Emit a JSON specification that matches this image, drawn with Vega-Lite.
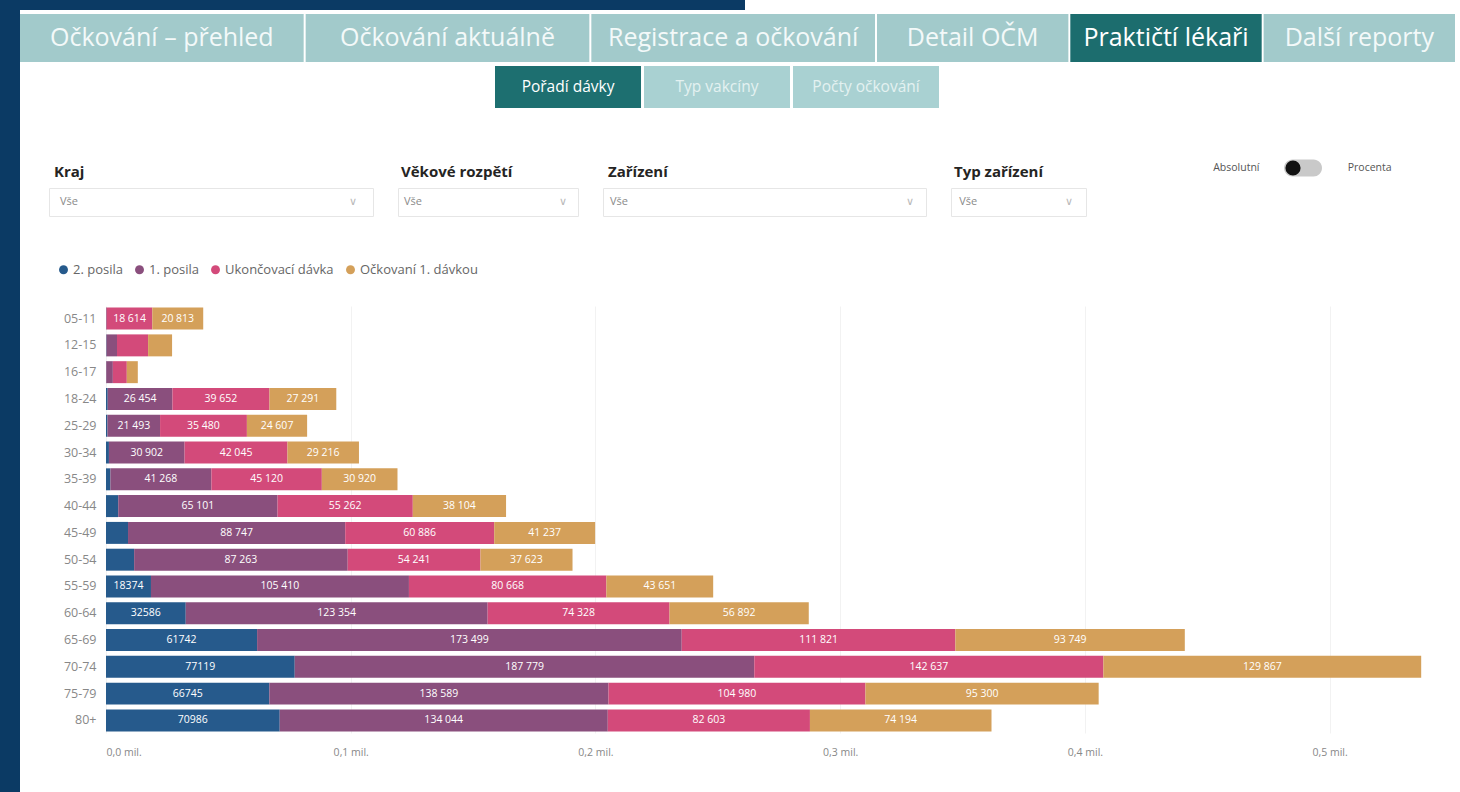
{
  "$schema": "https://vega.github.io/schema/vega-lite/v6.json",
  "padding": 0,
  "background": "white",
  "config": {"view": {"stroke": null}, "font": "Open Sans"},
  "datasets": {
    "tabsA": [
      {"tab": "Očkování – přehled", "aktivni": false},
      {"tab": "Očkování aktuálně", "aktivni": false},
      {"tab": "Registrace a očkování", "aktivni": false}
    ],
    "tabsB": [
      {"tab": "Detail OČM", "aktivni": false},
      {"tab": "Praktičtí lékaři", "aktivni": true},
      {"tab": "Další reporty", "aktivni": false}
    ],
    "subtabs": [
      {"tab": "Pořadí dávky", "aktivni": true},
      {"tab": "Typ vakcíny", "aktivni": false},
      {"tab": "Počty očkování", "aktivni": false}
    ],
    "dropdown": [{"k": "a", "t": "Vše"}, {"k": "b", "t": "∨"}],
    "toggle": [{"k": "Absolutní"}, {"k": "sw"}, {"k": "Procenta"}],
    "davky": [
      {"vek": "05-11", "serie": "2. posila", "poradi": 1, "pocet": 0},
      {"vek": "05-11", "serie": "1. posila", "poradi": 2, "pocet": 300},
      {"vek": "05-11", "serie": "Ukončovací dávka", "poradi": 3, "pocet": 18614},
      {"vek": "05-11", "serie": "Očkovaní 1. dávkou", "poradi": 4, "pocet": 20813},
      {"vek": "12-15", "serie": "2. posila", "poradi": 1, "pocet": 200},
      {"vek": "12-15", "serie": "1. posila", "poradi": 2, "pocet": 4300},
      {"vek": "12-15", "serie": "Ukončovací dávka", "poradi": 3, "pocet": 12700},
      {"vek": "12-15", "serie": "Očkovaní 1. dávkou", "poradi": 4, "pocet": 9800},
      {"vek": "16-17", "serie": "2. posila", "poradi": 1, "pocet": 100},
      {"vek": "16-17", "serie": "1. posila", "poradi": 2, "pocet": 2700},
      {"vek": "16-17", "serie": "Ukončovací dávka", "poradi": 3, "pocet": 5700},
      {"vek": "16-17", "serie": "Očkovaní 1. dávkou", "poradi": 4, "pocet": 4500},
      {"vek": "18-24", "serie": "2. posila", "poradi": 1, "pocet": 700},
      {"vek": "18-24", "serie": "1. posila", "poradi": 2, "pocet": 26454},
      {"vek": "18-24", "serie": "Ukončovací dávka", "poradi": 3, "pocet": 39652},
      {"vek": "18-24", "serie": "Očkovaní 1. dávkou", "poradi": 4, "pocet": 27291},
      {"vek": "25-29", "serie": "2. posila", "poradi": 1, "pocet": 600},
      {"vek": "25-29", "serie": "1. posila", "poradi": 2, "pocet": 21493},
      {"vek": "25-29", "serie": "Ukončovací dávka", "poradi": 3, "pocet": 35480},
      {"vek": "25-29", "serie": "Očkovaní 1. dávkou", "poradi": 4, "pocet": 24607},
      {"vek": "30-34", "serie": "2. posila", "poradi": 1, "pocet": 1200},
      {"vek": "30-34", "serie": "1. posila", "poradi": 2, "pocet": 30902},
      {"vek": "30-34", "serie": "Ukončovací dávka", "poradi": 3, "pocet": 42045},
      {"vek": "30-34", "serie": "Očkovaní 1. dávkou", "poradi": 4, "pocet": 29216},
      {"vek": "35-39", "serie": "2. posila", "poradi": 1, "pocet": 1800},
      {"vek": "35-39", "serie": "1. posila", "poradi": 2, "pocet": 41268},
      {"vek": "35-39", "serie": "Ukončovací dávka", "poradi": 3, "pocet": 45120},
      {"vek": "35-39", "serie": "Očkovaní 1. dávkou", "poradi": 4, "pocet": 30920},
      {"vek": "40-44", "serie": "2. posila", "poradi": 1, "pocet": 5000},
      {"vek": "40-44", "serie": "1. posila", "poradi": 2, "pocet": 65101},
      {"vek": "40-44", "serie": "Ukončovací dávka", "poradi": 3, "pocet": 55262},
      {"vek": "40-44", "serie": "Očkovaní 1. dávkou", "poradi": 4, "pocet": 38104},
      {"vek": "45-49", "serie": "2. posila", "poradi": 1, "pocet": 9000},
      {"vek": "45-49", "serie": "1. posila", "poradi": 2, "pocet": 88747},
      {"vek": "45-49", "serie": "Ukončovací dávka", "poradi": 3, "pocet": 60886},
      {"vek": "45-49", "serie": "Očkovaní 1. dávkou", "poradi": 4, "pocet": 41237},
      {"vek": "50-54", "serie": "2. posila", "poradi": 1, "pocet": 11500},
      {"vek": "50-54", "serie": "1. posila", "poradi": 2, "pocet": 87263},
      {"vek": "50-54", "serie": "Ukončovací dávka", "poradi": 3, "pocet": 54241},
      {"vek": "50-54", "serie": "Očkovaní 1. dávkou", "poradi": 4, "pocet": 37623},
      {"vek": "55-59", "serie": "2. posila", "poradi": 1, "pocet": 18374},
      {"vek": "55-59", "serie": "1. posila", "poradi": 2, "pocet": 105410},
      {"vek": "55-59", "serie": "Ukončovací dávka", "poradi": 3, "pocet": 80668},
      {"vek": "55-59", "serie": "Očkovaní 1. dávkou", "poradi": 4, "pocet": 43651},
      {"vek": "60-64", "serie": "2. posila", "poradi": 1, "pocet": 32586},
      {"vek": "60-64", "serie": "1. posila", "poradi": 2, "pocet": 123354},
      {"vek": "60-64", "serie": "Ukončovací dávka", "poradi": 3, "pocet": 74328},
      {"vek": "60-64", "serie": "Očkovaní 1. dávkou", "poradi": 4, "pocet": 56892},
      {"vek": "65-69", "serie": "2. posila", "poradi": 1, "pocet": 61742},
      {"vek": "65-69", "serie": "1. posila", "poradi": 2, "pocet": 173499},
      {"vek": "65-69", "serie": "Ukončovací dávka", "poradi": 3, "pocet": 111821},
      {"vek": "65-69", "serie": "Očkovaní 1. dávkou", "poradi": 4, "pocet": 93749},
      {"vek": "70-74", "serie": "2. posila", "poradi": 1, "pocet": 77119},
      {"vek": "70-74", "serie": "1. posila", "poradi": 2, "pocet": 187779},
      {"vek": "70-74", "serie": "Ukončovací dávka", "poradi": 3, "pocet": 142637},
      {"vek": "70-74", "serie": "Očkovaní 1. dávkou", "poradi": 4, "pocet": 129867},
      {"vek": "75-79", "serie": "2. posila", "poradi": 1, "pocet": 66745},
      {"vek": "75-79", "serie": "1. posila", "poradi": 2, "pocet": 138589},
      {"vek": "75-79", "serie": "Ukončovací dávka", "poradi": 3, "pocet": 104980},
      {"vek": "75-79", "serie": "Očkovaní 1. dávkou", "poradi": 4, "pocet": 95300},
      {"vek": "80+", "serie": "2. posila", "poradi": 1, "pocet": 70986},
      {"vek": "80+", "serie": "1. posila", "poradi": 2, "pocet": 134044},
      {"vek": "80+", "serie": "Ukončovací dávka", "poradi": 3, "pocet": 82603},
      {"vek": "80+", "serie": "Očkovaní 1. dávkou", "poradi": 4, "pocet": 74194}
    ]
  },
  "spacing": 0,
  "resolve": {"legend": {"color": "independent"}},
  "hconcat": [
    {
      "width": 20,
      "height": 792,
      "view": {"fill": "#0b3a64"},
      "data": {"values": []},
      "mark": "point",
      "encoding": {}
    },
    {
      "spacing": 51,
      "resolve": {"legend": {"color": "independent"}},
      "vconcat": [
        {
          "spacing": 4,
          "vconcat": [
            {
              "width": 725,
              "height": 10,
              "view": {"fill": "#0b3a64"},
              "data": {"values": []},
              "mark": "point",
              "encoding": {}
            },
            {
              "spacing": 2,
              "hconcat": [
                {
                  "width": 855,
                  "height": 48,
                  "data": {"name": "tabsA"},
                  "encoding": {
                    "x": {"field": "tab", "type": "nominal", "sort": null, "axis": null,
                          "scale": {"paddingInner": 0.007, "paddingOuter": 0}}
                  },
                  "layer": [
                    {
                      "mark": "bar",
                      "encoding": {
                        "color": {"condition": {"test": "datum.aktivni", "value": "#1c6d6e"}, "value": "#a2cacb"}
                      }
                    },
                    {
                      "mark": {"type": "text", "fontSize": 25, "baseline": "middle"},
                      "encoding": {
                        "text": {"field": "tab"},
                        "color": {"condition": {"test": "datum.aktivni", "value": "#ffffff"}, "value": "#f3f9f9"}
                      }
                    }
                  ]
                },
                {
                  "width": 578,
                  "height": 48,
                  "data": {"name": "tabsB"},
                  "encoding": {
                    "x": {"field": "tab", "type": "nominal", "sort": null, "axis": null,
                          "scale": {"paddingInner": 0.01, "paddingOuter": 0}}
                  },
                  "layer": [
                    {
                      "mark": "bar",
                      "encoding": {
                        "color": {"condition": {"test": "datum.aktivni", "value": "#1c6d6e"}, "value": "#a2cacb"}
                      }
                    },
                    {
                      "mark": {"type": "text", "fontSize": 25, "baseline": "middle"},
                      "encoding": {
                        "text": {"field": "tab"},
                        "color": {"condition": {"test": "datum.aktivni", "value": "#ffffff"}, "value": "#f3f9f9"}
                      }
                    }
                  ]
                }
              ]
            },
            {
              "spacing": 0,
              "hconcat": [
                {"width": 474, "height": 42, "data": {"values": []}, "mark": "point", "encoding": {}},
                {
                  "width": 444,
                  "height": 42,
                  "data": {"name": "subtabs"},
                  "encoding": {
                    "x": {"field": "tab", "type": "nominal", "sort": null, "axis": null,
                          "scale": {"paddingInner": 0.02, "paddingOuter": 0}}
                  },
                  "layer": [
                    {
                      "mark": "bar",
                      "encoding": {
                        "color": {"condition": {"test": "datum.aktivni", "value": "#1d6f70"}, "value": "#a9d1d2"}
                      }
                    },
                    {
                      "mark": {"type": "text", "fontSize": 15.5, "baseline": "middle"},
                      "encoding": {
                        "text": {"field": "tab"},
                        "color": {"condition": {"test": "datum.aktivni", "value": "#ffffff"}, "value": "#e4f1f1"}
                      }
                    }
                  ]
                }
              ]
            }
          ]
        },
        {
          "spacing": 46,
          "resolve": {"legend": {"color": "independent"}},
          "vconcat": [
            {
              "spacing": 23,
              "hconcat": [
                {"width": 5, "height": 1, "data": {"values": []}, "mark": "point", "encoding": {}},
                {
                  "width": 324,
                  "height": 28,
                  "view": {"stroke": "#e6e6e6", "fill": "white"},
                  "title": {"text": "Kraj", "anchor": "start", "fontSize": 15, "fontWeight": "bold", "color": "#252423", "offset": 8, "dx": 5},
                  "data": {"name": "dropdown"},
                  "mark": {"type": "text", "fontSize": 11},
                  "encoding": {
                    "x": {"field": "k", "type": "nominal", "axis": null, "scale": {"type": "point", "padding": 0.07}},
                    "text": {"field": "t"},
                    "color": {"condition": {"test": "datum.k == 'b'", "value": "#b8b8b8"}, "value": "#8a8a8a"}
                  }
                },
                {
                  "width": 180,
                  "height": 28,
                  "view": {"stroke": "#e6e6e6", "fill": "white"},
                  "title": {"text": "Věkové rozpětí", "anchor": "start", "fontSize": 15, "fontWeight": "bold", "color": "#252423", "offset": 8, "dx": 3},
                  "data": {"name": "dropdown"},
                  "mark": {"type": "text", "fontSize": 11},
                  "encoding": {
                    "x": {"field": "k", "type": "nominal", "axis": null, "scale": {"type": "point", "padding": 0.1}},
                    "text": {"field": "t"},
                    "color": {"condition": {"test": "datum.k == 'b'", "value": "#b8b8b8"}, "value": "#8a8a8a"}
                  }
                },
                {
                  "width": 323,
                  "height": 28,
                  "view": {"stroke": "#e6e6e6", "fill": "white"},
                  "title": {"text": "Zařízení", "anchor": "start", "fontSize": 15, "fontWeight": "bold", "color": "#252423", "offset": 8, "dx": 5},
                  "data": {"name": "dropdown"},
                  "mark": {"type": "text", "fontSize": 11},
                  "encoding": {
                    "x": {"field": "k", "type": "nominal", "axis": null, "scale": {"type": "point", "padding": 0.055}},
                    "text": {"field": "t"},
                    "color": {"condition": {"test": "datum.k == 'b'", "value": "#b8b8b8"}, "value": "#8a8a8a"}
                  }
                },
                {
                  "width": 135,
                  "height": 28,
                  "view": {"stroke": "#e6e6e6", "fill": "white"},
                  "title": {"text": "Typ zařízení", "anchor": "start", "fontSize": 15, "fontWeight": "bold", "color": "#252423", "offset": 8, "dx": 3},
                  "data": {"name": "dropdown"},
                  "mark": {"type": "text", "fontSize": 11},
                  "encoding": {
                    "x": {"field": "k", "type": "nominal", "axis": null, "scale": {"type": "point", "padding": 0.17}},
                    "text": {"field": "t"},
                    "color": {"condition": {"test": "datum.k == 'b'", "value": "#b8b8b8"}, "value": "#8a8a8a"}
                  }
                },
                {"width": 70, "height": 1, "data": {"values": []}, "mark": "point", "encoding": {}},
                {
                  "width": 200,
                  "height": 28,
                  "data": {"name": "toggle"},
                  "encoding": {
                    "x": {"field": "k", "type": "nominal", "axis": null,
                          "scale": {"type": "point", "padding": 0.5, "domain": ["Absolutní", "sw", "Procenta"]}}
                  },
                  "layer": [
                    {
                      "transform": [{"filter": "datum.k != 'sw'"}],
                      "mark": {"type": "text", "fontSize": 10.5, "color": "#555555", "dy": -34},
                      "encoding": {"text": {"field": "k"}}
                    },
                    {
                      "transform": [{"filter": "datum.k == 'sw'"}],
                      "mark": {"type": "point", "filled": true, "opacity": 1, "color": "#c9c9c9", "yOffset": -34,
                               "shape": "M-0.55,-0.45L0.55,-0.45A0.45,0.45 0 0 1 0.55,0.45L-0.55,0.45A0.45,0.45 0 0 1 -0.55,-0.45Z",
                               "size": 1444}
                    },
                    {
                      "transform": [{"filter": "datum.k == 'sw'"}],
                      "mark": {"type": "point", "filled": true, "opacity": 1, "color": "#111111", "shape": "circle", "size": 230, "xOffset": -10, "yOffset": -34}
                    }
                  ]
                }
              ]
            },
            {
              "spacing": 0,
              "resolve": {"legend": {"color": "independent"}},
              "hconcat": [
                {"width": 36, "height": 1, "data": {"values": []}, "mark": "point", "encoding": {}},
                {
                  "width": 1324,
                  "height": 427,
                  "data": {"name": "davky"},
                  "transform": [
                    {"stack": "pocet", "groupby": ["vek"], "sort": [{"field": "poradi", "order": "ascending"}], "as": ["x0", "x1"]},
                    {"calculate": "(datum.x0 + datum.x1) / 2", "as": "xm"},
                    {"calculate": "datum.serie == '2. posila' ? format(datum.pocet, 'd') : replace(format(datum.pocet, ',d'), ',', ' ')", "as": "popisek"}
                  ],
                  "encoding": {
                    "y": {
                      "field": "vek",
                      "type": "nominal",
                      "sort": ["05-11", "12-15", "16-17", "18-24", "25-29", "30-34", "35-39", "40-44", "45-49", "50-54", "55-59", "60-64", "65-69", "70-74", "75-79", "80+"],
                      "title": null,
                      "scale": {"paddingInner": 0.18, "paddingOuter": 0.06},
                      "axis": {"domain": false, "ticks": false, "labelPadding": 10, "labelColor": "#888888", "labelFontSize": 12.5, "minExtent": 50, "maxExtent": 50}
                    }
                  },
                  "layer": [
                    {
                      "mark": "bar",
                      "encoding": {
                        "x": {
                          "field": "x0",
                          "type": "quantitative",
                          "title": null,
                          "scale": {"domain": [0, 541000], "nice": false},
                          "axis": {
                            "values": [0, 100000, 200000, 300000, 400000, 500000],
                            "labelExpr": "replace(format(datum.value / 1000000, '.1f'), '.', ',') + ' mil.'",
                            "grid": true,
                            "gridColor": "#f2f2f2",
                            "ticks": false,
                            "domain": false,
                            "labelPadding": 14,
                            "labelColor": "#888888",
                            "labelFontSize": 10.5
                          }
                        },
                        "x2": {"field": "x1"},
                        "color": {
                          "field": "serie",
                          "type": "nominal",
                          "scale": {
                            "domain": ["2. posila", "1. posila", "Ukončovací dávka", "Očkovaní 1. dávkou"],
                            "range": ["#265a8c", "#8a4f7d", "#d34a7a", "#d4a05a"]
                          },
                          "legend": {
                            "orient": "none",
                            "legendX": -49,
                            "legendY": -43,
                            "direction": "horizontal",
                            "title": null,
                            "symbolType": "circle",
                            "symbolSize": 80,
                            "labelFontSize": 13,
                            "labelColor": "#666666",
                            "labelOffset": 3,
                            "columnPadding": 10
                          }
                        }
                      }
                    },
                    {
                      "transform": [{"filter": "datum.pocet >= 15000"}],
                      "mark": {"type": "text", "color": "white", "fontSize": 10.5, "baseline": "middle"},
                      "encoding": {
                        "x": {"field": "xm", "type": "quantitative"},
                        "text": {"field": "popisek"}
                      }
                    }
                  ]
                }
              ]
            }
          ]
        }
      ]
    }
  ]
}
